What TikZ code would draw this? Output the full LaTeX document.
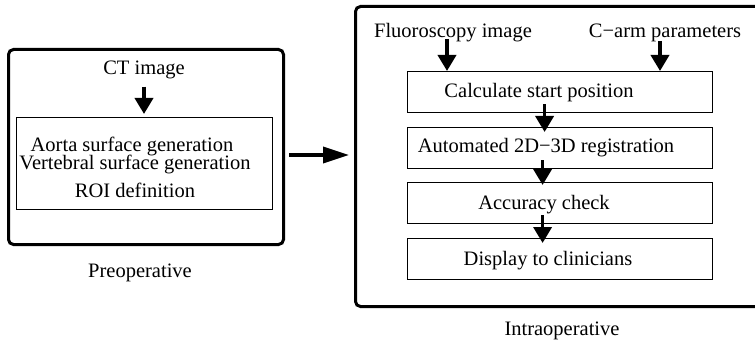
\documentclass[tikz,border=0pt]{standalone}
\usepackage{fontspec}
\setmainfont{Liberation Serif}
\usetikzlibrary{arrows.meta}
\begin{document}
\begin{tikzpicture}[x=1pt,y=-1pt,
  txt/.style={inner sep=0pt,anchor=base,font=\fontsize{20.5}{24}\selectfont},
  outer/.style={draw,line width=3pt,rounded corners=5pt},
  stepbox/.style={draw,line width=1.2pt},
  arr/.style={line width=3.6pt,-{Triangle[length=16pt,width=18pt]}},
  bigarr/.style={line width=3.6pt,-{Triangle[length=26pt,width=16pt]}}]
\useasboundingbox (0,0) rectangle (755,342);
\clip (0,0) rectangle (755,342);
% left
\node[outer,minimum width=275pt,minimum height=195pt,anchor=north west] (pre) at (7,48) {};
\node[stepbox,minimum width=256pt,minimum height=92pt,anchor=north west] (inner) at (16,117) {};
\node[txt] (ct) at (144,75) {CT image};
\node[txt] (aorta) at (132,151) {Aorta surface generation};
\node[txt] (vert) at (135,169) {Vertebral surface generation};
\node[txt] (roi) at (135,197) {ROI definition};
\node[txt] (prel) at (140,277) {Preoperative};
\draw[arr] ([yshift=-7pt]ct.south) -- ([yshift=3pt]inner.north -| ct.south);
% right
\node[outer,minimum width=420pt,minimum height=300pt,anchor=north west] (intra) at (354,5) {};
\node[txt] (fluo) at (453,38) {Fluoroscopy image};
\node[txt] (carm) at (665,38) {C\char"2212 arm parameters};
\node[stepbox,minimum width=305pt,minimum height=41pt,anchor=north west] (b1) at (407,71) {};
\node[stepbox,minimum width=305pt,minimum height=41pt,anchor=north west] (b2) at (407,127) {};
\node[stepbox,minimum width=305pt,minimum height=41pt,anchor=north west] (b3) at (407,182) {};
\node[stepbox,minimum width=305pt,minimum height=41pt,anchor=north west] (b4) at (407,238) {};
\node[txt] (t1) at (539,98) {Calculate start position};
\node[txt] (t2) at (546,153) {Automated 2D\char"2212 3D registration};
\node[txt] (t3) at (544,209) {Accuracy check};
\node[txt] (t4) at (548,265) {Display to clinicians};
\node[txt] (intral) at (562,335) {Intraoperative};
\coordinate (f1) at (447,39);
\coordinate (c1) at (660,41);
\draw[arr] (f1) -- (f1 |- b1.north);
\draw[arr] (c1) -- (c1 |- b1.north);
\draw[arr] ([xshift=-15.5pt,yshift=9pt]b1.south) -- ([xshift=-15.5pt,yshift=-5pt]b2.north);
\draw[arr] ([xshift=-17.5pt,yshift=9pt]b2.south) -- ([xshift=-17.5pt,yshift=-3pt]b3.north);
\draw[arr] ([xshift=-17.5pt,yshift=9pt]b3.south) -- ([xshift=-17.5pt,yshift=-5pt]b4.north);
% between
\draw[bigarr] ([xshift=4pt]pre.east |- 0,155) -- ([xshift=-5pt]intra.west |- 0,155);
\end{tikzpicture}
\end{document}
